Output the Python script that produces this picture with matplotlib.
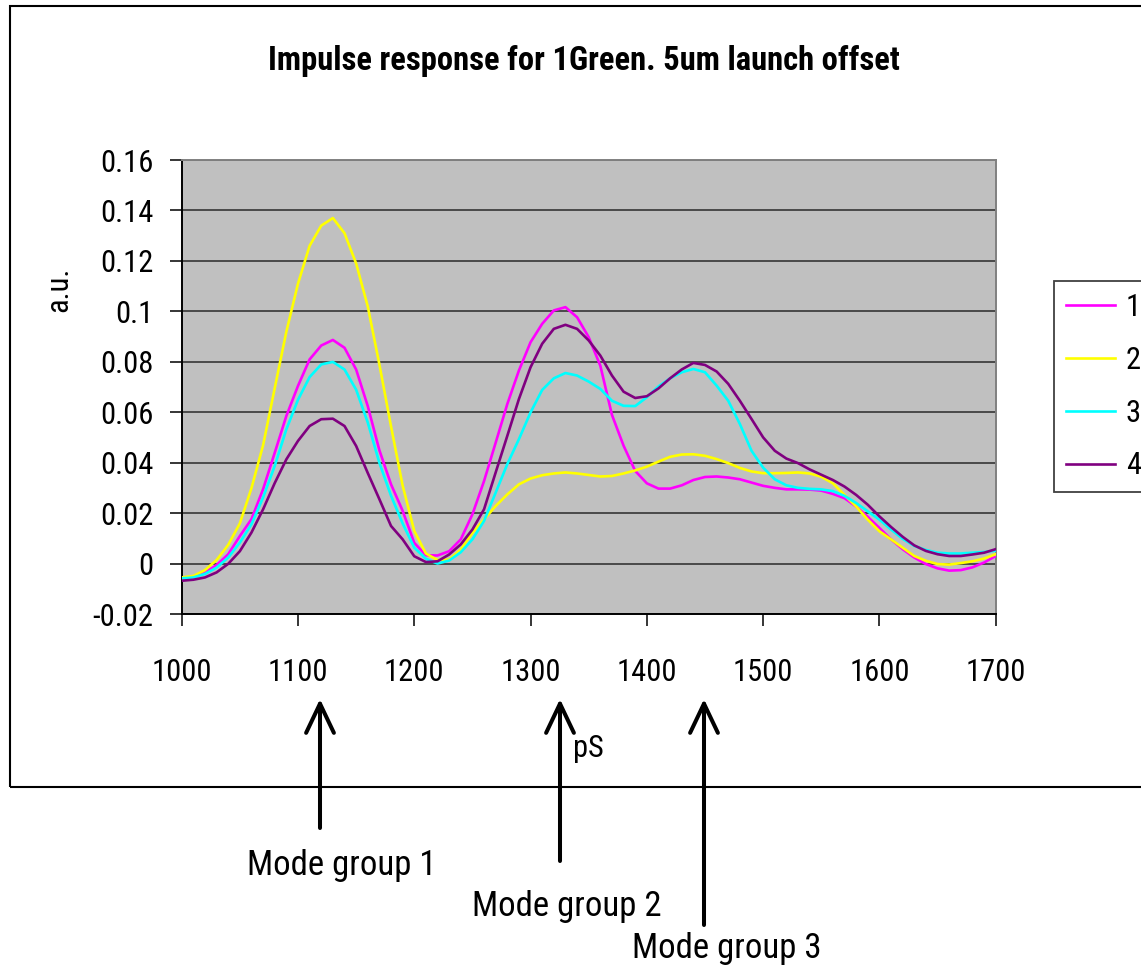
import os
import matplotlib
matplotlib.use("Agg")
import matplotlib.pyplot as plt
from matplotlib import font_manager
from matplotlib.font_manager import FontProperties
from matplotlib.patches import Rectangle, FancyArrowPatch

# time axis in pS (10 pS steps)
time_ps = list(range(1000, 1701, 10))

series_1 = [
    -0.0057, -0.0051, -0.0034, -0.0005, 0.0038, 0.0110, 0.0177, 0.0296, 0.0440, 0.0586,
    0.0705, 0.0810, 0.0865, 0.0887, 0.0856, 0.0770, 0.0625, 0.0450, 0.0315, 0.0210,
    0.0083, 0.0034, 0.0033, 0.0050, 0.0097, 0.0196, 0.0328, 0.0480, 0.0633, 0.0766,
    0.0878, 0.0951, 0.1004, 0.1017, 0.0977, 0.0898, 0.0785, 0.0590, 0.0468, 0.0368,
    0.0319, 0.0298, 0.0298, 0.0311, 0.0332, 0.0344, 0.0346, 0.0342, 0.0335, 0.0322,
    0.0309, 0.0301, 0.0295, 0.0295, 0.0294, 0.0290, 0.0277, 0.0260, 0.0227, 0.0186,
    0.0142, 0.0097, 0.0058, 0.0025, -0.0001, -0.0018, -0.0027, -0.0025, -0.0014, 0.0005,
    0.0031,
]
series_2 = [
    -0.0054, -0.0048, -0.0025, 0.0015, 0.0075, 0.0160, 0.0300, 0.0470, 0.0696, 0.0920,
    0.1110, 0.1260, 0.1340, 0.1370, 0.1310, 0.1190, 0.1020, 0.0790, 0.0545, 0.0310,
    0.0130, 0.0041, 0.0015, 0.0017, 0.0057, 0.0123, 0.0176, 0.0229, 0.0275, 0.0315,
    0.0338, 0.0351, 0.0358, 0.0362, 0.0358, 0.0352, 0.0346, 0.0348, 0.0358, 0.0370,
    0.0385, 0.0405, 0.0424, 0.0433, 0.0434, 0.0428, 0.0415, 0.0399, 0.0380, 0.0366,
    0.0359, 0.0359, 0.0360, 0.0362, 0.0358, 0.0345, 0.0319, 0.0273, 0.0227, 0.0175,
    0.0129, 0.0097, 0.0064, 0.0031, 0.0012, -0.0001, -0.0003, 0.0003, 0.0010, 0.0021,
    0.0038,
]
series_3 = [
    -0.0058, -0.0054, -0.0040, -0.0015, 0.0025, 0.0084, 0.0157, 0.0263, 0.0388, 0.0533,
    0.0650, 0.0740, 0.0790, 0.0800, 0.0770, 0.0690, 0.0560, 0.0400, 0.0270, 0.0160,
    0.0064, 0.0020, 0.0001, 0.0013, 0.0046, 0.0097, 0.0170, 0.0282, 0.0395, 0.0494,
    0.0600, 0.0689, 0.0735, 0.0756, 0.0746, 0.0722, 0.0693, 0.0646, 0.0626, 0.0625,
    0.0660, 0.0703, 0.0735, 0.0759, 0.0772, 0.0759, 0.0706, 0.0646, 0.0554, 0.0448,
    0.0381, 0.0335, 0.0311, 0.0301, 0.0297, 0.0295, 0.0288, 0.0269, 0.0241, 0.0208,
    0.0175, 0.0136, 0.0099, 0.0071, 0.0055, 0.0044, 0.0041, 0.0041, 0.0044, 0.0047,
    0.0052,
]
series_4 = [
    -0.0067, -0.0063, -0.0054, -0.0034, 0.0000, 0.0050, 0.0124, 0.0216, 0.0320, 0.0414,
    0.0487, 0.0546, 0.0573, 0.0575, 0.0546, 0.0467, 0.0360, 0.0256, 0.0150, 0.0097,
    0.0030, 0.0007, 0.0010, 0.0037, 0.0077, 0.0136, 0.0216, 0.0362, 0.0507, 0.0653,
    0.0779, 0.0872, 0.0931, 0.0947, 0.0931, 0.0885, 0.0825, 0.0746, 0.0682, 0.0657,
    0.0664, 0.0695, 0.0735, 0.0770, 0.0796, 0.0788, 0.0762, 0.0713, 0.0646, 0.0574,
    0.0501, 0.0448, 0.0417, 0.0399, 0.0374, 0.0353, 0.0332, 0.0306, 0.0273, 0.0234,
    0.0188, 0.0146, 0.0107, 0.0073, 0.0051, 0.0038, 0.0031, 0.0031, 0.0037, 0.0044,
    0.0058,
]

series_names = ["1", "2", "3", "4"]
series_colors = ["#FF00FF", "#FFFF00", "#00FFFF", "#800080"]

x_ticks = [1000, 1100, 1200, 1300, 1400, 1500, 1600, 1700]
y_ticks = [-0.02, 0, 0.02, 0.04, 0.06, 0.08, 0.10, 0.12, 0.14, 0.16]
y_tick_labels = ["-0.02", "0", "0.02", "0.04", "0.06", "0.08", "0.1", "0.12", "0.14", "0.16"]

mode_labels = ["Mode group 1", "Mode group 2", "Mode group 3"]


def narrow_font(bold=False):
    """Look for a condensed/narrow sans file; fall back to Liberation Sans."""
    prefs = ["liberationsansnarrow", "robotocondensed", "dejavusanscondensed",
             "opensanscondensed", "notosanscondensed", "condensed", "narrow"]
    files = []
    for f in font_manager.fontManager.ttflist:
        base = os.path.basename(f.fname).lower().replace("-", "").replace("_", "")
        if "italic" in base or "oblique" in base:
            continue
        is_bold = "bold" in base and "semibold" not in base and "extrabold" not in base
        if is_bold != bold:
            continue
        if any(k in base for k in ("light", "thin", "black", "medium", "semibold", "extra")):
            continue
        files.append((base, f.fname))
    for p in prefs:
        for base, path in files:
            if p in base:
                return FontProperties(fname=path)
    return FontProperties(family="Liberation Sans", weight="bold" if bold else "normal")


FP = narrow_font(False)
FPB = narrow_font(True)

W, H = 1141, 971


def fx(px):
    return px / W


def fy(py):
    return 1 - py / H


fig = plt.figure(figsize=(W / 100, H / 100), dpi=100)
ax = fig.add_axes([fx(181.7), fy(614.3), fx(995.7) - fx(181.7), fy(160) - fy(614.3)])
ax.set_facecolor("#C0C0C0")

for ys, name, col in zip([series_1, series_2, series_3, series_4], series_names, series_colors):
    ax.plot(time_ps, ys, color=col, lw=1.9, label=name, zorder=3)

ax.set_xlim(1000, 1700)
ax.set_ylim(-0.02, 0.16)
ax.set_xticks(x_ticks)
ax.set_xticklabels([str(t) for t in x_ticks], fontproperties=FP, fontsize=22)
ax.set_yticks(y_ticks)
ax.set_yticklabels(y_tick_labels, fontproperties=FP, fontsize=22)
ax.grid(axis="y", color="#404040", lw=1.3, zorder=1)
ax.set_axisbelow(True)

for side in ["left", "bottom"]:
    ax.spines[side].set_color("black")
    ax.spines[side].set_linewidth(1.4)
for side in ["top", "right"]:
    ax.spines[side].set_color("#808080")
    ax.spines[side].set_linewidth(1.4)

ax.tick_params(axis="y", direction="out", length=8.5, width=1.1, pad=12)
ax.tick_params(axis="x", direction="out", length=8.5, width=1.1, pad=23)

fig.text(fx(583.5), fy(70), "Impulse response for 1Green. 5um launch offset",
         ha="center", va="baseline", fontproperties=FPB, fontsize=23.5)
fig.text(fx(59), fy(289), "a.u.", rotation=90, ha="center", va="center",
         fontproperties=FP, fontsize=22)
fig.text(fx(573), fy(757), "pS", ha="left", va="baseline", fontproperties=FP, fontsize=22)

leg_fp = FP.copy()
leg_fp.set_size(22)
leg = ax.legend(loc="upper left", bbox_to_anchor=(fx(1054), fy(281)),
                bbox_transform=fig.transFigure, prop=leg_fp, frameon=True,
                fancybox=False, framealpha=1, edgecolor="#404040",
                handlelength=1.6, handletextpad=0.36, borderpad=0.39,
                labelspacing=0.78, borderaxespad=0)
leg.get_frame().set_linewidth(1.3)
for line in leg.get_lines():
    line.set_linewidth(1.9)

# outer chart frame (runs off the right edge)
fig.add_artist(Rectangle((fx(10), fy(787)), 1.2, fy(6) - fy(787), transform=fig.transFigure,
                         fill=False, ec="black", lw=1.5, clip_on=False))

# mode group arrows and labels
arrow_x = [320, 560, 704]
arrow_tail = [828, 861, 925]
label_pos = [(341.5, 875), (567, 916), (727, 958)]

for ax_px, tail, lab, (lx, ly) in zip(arrow_x, arrow_tail, mode_labels, label_pos):
    fig.add_artist(FancyArrowPatch((fx(ax_px), fy(tail)), (fx(ax_px), fy(699)),
                                   transform=fig.transFigure,
                                   arrowstyle="->,head_length=1.05,head_width=0.5",
                                   mutation_scale=20, lw=2.9, color="black",
                                   shrinkA=0, shrinkB=0))
    fig.text(fx(lx), fy(ly), lab, ha="center", va="baseline", fontproperties=FP, fontsize=25)

fig.savefig("out.png", dpi=100)
